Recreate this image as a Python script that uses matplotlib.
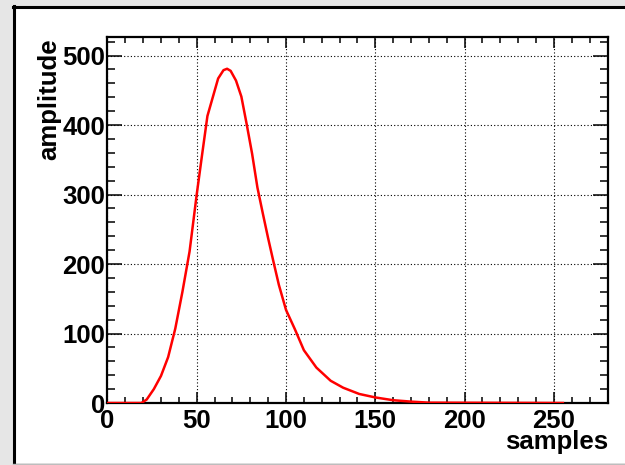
import matplotlib
matplotlib.use('Agg')
import matplotlib.pyplot as plt
from matplotlib.patches import Rectangle
from matplotlib.lines import Line2D
from matplotlib.ticker import MultipleLocator

# pulse shape (sample index, amplitude)
samples = [0, 19, 22, 26, 30, 34, 38, 42, 46, 50, 53, 56, 59, 62, 65, 67, 69,
           72, 75, 78, 81, 84, 87, 90, 93, 96, 100, 105, 110, 117, 125, 132,
           141, 150, 160, 170, 180, 255]
amplitude = [0, 0, 5, 20, 39, 66, 107, 160, 218, 300, 357, 413, 440, 467, 479,
             481, 478, 464, 441, 401, 359, 310, 273, 237, 203, 170, 134, 106,
             76, 51, 32, 22, 13, 8, 4, 2, 0.5, 0]
x_ticks = [0, 50, 100, 150, 200, 250]
y_ticks = [0, 100, 200, 300, 400, 500]

W, H = 625, 465
plt.rcParams['font.family'] = ['Liberation Sans', 'DejaVu Sans']
fig = plt.figure(figsize=(W/100, H/100), dpi=100)
fig.patch.set_facecolor('#e6e6e6')

# white canvas with dark top/left border
fig.patches.append(Rectangle((13/W, (H-463)/H), (W-13)/W, (463-6)/H,
                             transform=fig.transFigure, facecolor='white',
                             edgecolor='none', zorder=-5))
fig.lines.append(Line2D([14/W, 14/W], [(H-463)/H, (H-6)/H], transform=fig.transFigure,
                        color='black', lw=2.2, zorder=-4))
fig.lines.append(Line2D([13/W, 1.0], [(H-7)/H, (H-7)/H], transform=fig.transFigure,
                        color='black', lw=2.2, zorder=-4))
fig.lines.append(Line2D([13/W, 1.0], [(H-463.5)/H, (H-463.5)/H], transform=fig.transFigure,
                        color='#bdbdbd', lw=1, zorder=-4))

ax = fig.add_axes([107.4/W, (H-403)/H, (608.4-107.4)/W, (403-37.5)/H])
ax.set_zorder(2)
ax.set_facecolor('white')
ax.plot(samples, amplitude, color='#ff0000', lw=1.8, zorder=3)

ax.set_xlim(0, 280.5)
ax.set_ylim(0, 526)
ax.set_xticks(x_ticks)
ax.set_yticks(y_ticks)
ax.xaxis.set_minor_locator(MultipleLocator(10))
ax.yaxis.set_minor_locator(MultipleLocator(20))
ax.grid(True, which='major', color='black', linestyle=(0, (1, 2)), lw=0.8)

for s in ax.spines.values():
    s.set_linewidth(1.6)
ax.tick_params(axis='both', which='both', direction='in', top=True, right=True,
               width=1.1, colors='black')
ax.tick_params(axis='x', which='major', length=8, pad=4.5)
ax.tick_params(axis='x', which='minor', length=4)
ax.tick_params(axis='y', which='major', length=11, pad=1.5)
ax.tick_params(axis='y', which='minor', length=6)
for lab in ax.get_xticklabels() + ax.get_yticklabels():
    lab.set_fontsize(18.5)
    lab.set_fontweight('bold')

fig.text(608/W, (H-449)/H, 'samples', ha='right', va='baseline',
         fontsize=18.5, fontweight='bold')
fig.text(49/W, (H-38)/H, 'amplitude', ha='center', va='top', rotation=90,
         fontsize=18.5, fontweight='bold')

fig.savefig('out.png', dpi=100, facecolor=fig.get_facecolor())
